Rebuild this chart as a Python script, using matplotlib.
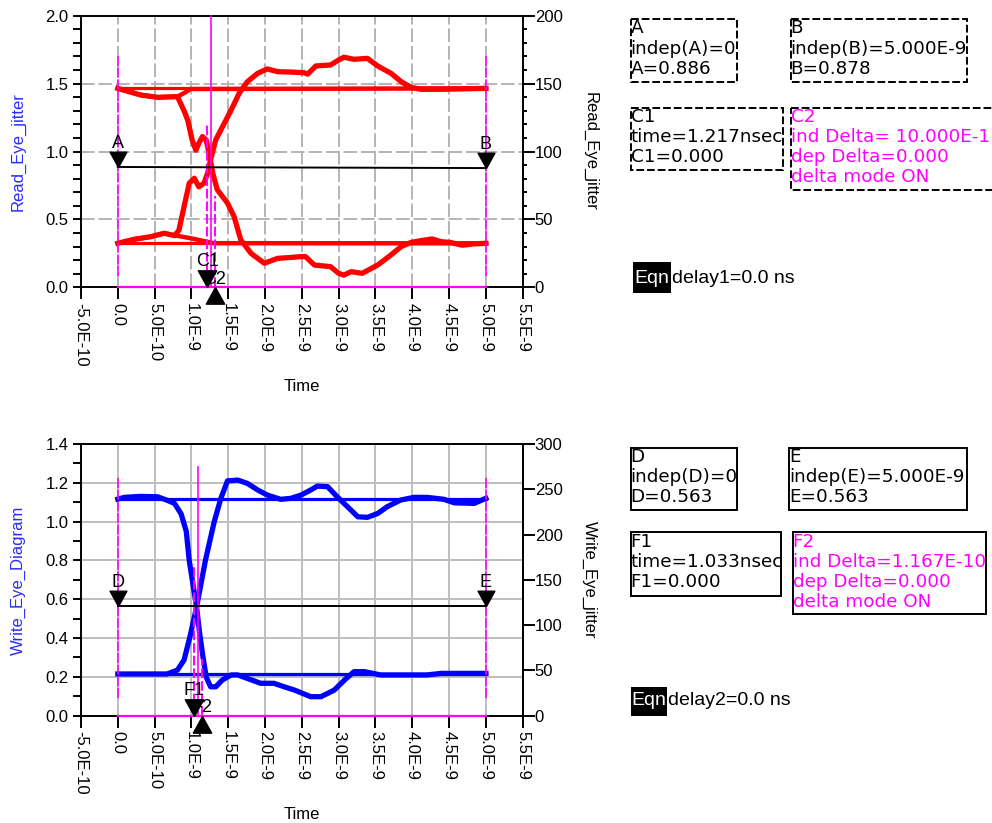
import numpy as np
import matplotlib
matplotlib.use("Agg")
import matplotlib.pyplot as plt
import matplotlib.transforms as mtransforms
from matplotlib.patches import Rectangle
from matplotlib.path import Path
from matplotlib.ticker import MultipleLocator

plt.rcParams['font.family'] = ['Liberation Sans', 'DejaVu Sans']

RED = '#ff0000'
BLUE = '#0000ff'
MAGENTA = '#ff00ff'

# time axis (ns) and its labels
time_ticks = [-0.5, 0.0, 0.5, 1.0, 1.5, 2.0, 2.5, 3.0, 3.5, 4.0, 4.5, 5.0, 5.5]
time_labels = ["-5.0E-10", "0.0", "5.0E-10", "1.0E-9", "1.5E-9", "2.0E-9", "2.5E-9",
               "3.0E-9", "3.5E-9", "4.0E-9", "4.5E-9", "5.0E-9", "5.5E-9"]

# ---- read eye (ns, V) ----
read_levels = [1.465, 0.324]
read_fall_t = [0, 0.31, 0.54, 0.81, 0.9, 0.95, 1.01, 1.06, 1.1, 1.15, 1.2, 1.24, 1.29, 1.35,
               1.49, 1.58, 1.67, 1.81, 1.99, 2.17, 2.35, 2.49, 2.55, 2.67, 2.89, 3.0, 3.07,
               3.17, 3.32, 3.53, 3.71, 3.85, 3.98, 4.12, 4.27, 4.39, 4.52, 4.68, 4.84, 5.0]
read_fall_v = [1.465, 1.416, 1.399, 1.404, 1.30, 1.23, 1.085, 1.01, 1.06, 1.11, 1.085, 0.987,
               0.84, 0.72, 0.62, 0.52, 0.35, 0.25, 0.177, 0.213, 0.22, 0.226, 0.226, 0.164,
               0.152, 0.103, 0.09, 0.115, 0.103, 0.164, 0.238, 0.3, 0.33, 0.344, 0.356, 0.336,
               0.33, 0.31, 0.32, 0.324]
read_rise_t = [0, 0.22, 0.45, 0.63, 0.77, 0.83, 0.9, 0.97, 1.04, 1.1, 1.17, 1.22, 1.26, 1.33,
               1.42, 1.54, 1.65, 1.76, 1.9, 2.03, 2.17, 2.35, 2.53, 2.58, 2.69, 2.89, 3.0,
               3.07, 3.21, 3.39, 3.53, 3.71, 3.85, 3.98, 4.12, 4.39, 5.0]
read_rise_v = [0.324, 0.353, 0.373, 0.398, 0.38, 0.42, 0.594, 0.766, 0.803, 0.74, 0.766, 0.84,
               0.94, 1.085, 1.18, 1.306, 1.43, 1.514, 1.576, 1.608, 1.588, 1.585, 1.58, 1.57,
               1.63, 1.637, 1.674, 1.694, 1.679, 1.686, 1.63, 1.576, 1.514, 1.473, 1.458,
               1.458, 1.465]
read_hi_t = [0, 0.31, 0.54, 0.81, 0.9, 0.99, 5.0]
read_hi_v = [1.465, 1.416, 1.399, 1.404, 1.43, 1.46, 1.465]
read_lo_t = [0, 0.22, 0.45, 0.63, 0.8, 1.0, 1.13, 1.3, 5.0]
read_lo_v = [0.324, 0.353, 0.373, 0.398, 0.38, 0.36, 0.345, 0.325, 0.324]

# ---- write eye (ns, V) ----
write_levels = [1.116, 0.215]
write_fall_t = [0, 0.09, 0.31, 0.54, 0.67, 0.77, 0.86, 0.93, 0.97, 1.02, 1.07, 1.11, 1.15, 1.2,
                1.26, 1.33, 1.42, 1.54, 1.63, 1.76, 1.94, 2.12, 2.26, 2.4, 2.62, 2.76, 2.94,
                3.08, 3.21, 3.35, 3.57, 3.8, 4.2, 4.39, 5.0]
write_fall_v = [1.116, 1.125, 1.13, 1.128, 1.11, 1.094, 1.04, 0.95, 0.8, 0.68, 0.56, 0.43,
                0.32, 0.2, 0.149, 0.149, 0.184, 0.21, 0.21, 0.192, 0.167, 0.167, 0.149, 0.132,
                0.098, 0.098, 0.132, 0.184, 0.227, 0.227, 0.21, 0.21, 0.21, 0.218, 0.218]
write_rise_t = [0, 0.67, 0.81, 0.9, 0.98, 1.07, 1.19, 1.31, 1.4, 1.49, 1.63, 1.76, 1.9, 2.03,
                2.21, 2.35, 2.49, 2.62, 2.71, 2.85, 2.98, 3.12, 3.26, 3.39, 3.53, 3.66, 3.84,
                4.02, 4.2, 4.43, 4.57, 4.84, 5.0]
write_rise_v = [0.215, 0.215, 0.235, 0.287, 0.407, 0.56, 0.8, 1.0, 1.12, 1.21, 1.214, 1.197,
                1.163, 1.137, 1.115, 1.12, 1.137, 1.163, 1.183, 1.18, 1.128, 1.077, 1.025,
                1.022, 1.042, 1.077, 1.111, 1.125, 1.125, 1.115, 1.097, 1.094, 1.12]

# ---- markers ----
A_x, A_y = 0.0, 0.886
B_x, B_y = 5.0, 0.878
C1_t, C2_delta = 1.217, 0.100
D_x, D_y = 0.0, 0.563
E_x, E_y = 5.0, 0.563
F1_t, F2_delta = 1.033, 0.1167

# triangle markers with the tip on the point
tri_down = Path([(-0.55, 1.0), (0.55, 1.0), (0, 0), (-0.55, 1.0)],
                [Path.MOVETO, Path.LINETO, Path.LINETO, Path.CLOSEPOLY])
tri_up = Path([(-0.55, -1.0), (0.55, -1.0), (0, 0), (-0.55, -1.0)],
              [Path.MOVETO, Path.LINETO, Path.LINETO, Path.CLOSEPOLY])

fig = plt.figure(figsize=(9.92, 8.23), dpi=100)
pix = mtransforms.Affine2D().scale(1 / 992, -1 / 823).translate(0, 1) + fig.transFigure

ax1 = fig.add_axes([81 / 992, 1 - 287.3 / 823, 441.7 / 992, 271.6 / 823])
ax2 = fig.add_axes([81 / 992, 1 - 715.7 / 823, 441.7 / 992, 271.7 / 823])


def setup_axes(ax, ymax, ystep, yminor, ylabel, rmax, rminor, rlabel, dashed_grid):
    ax.set_xlim(-0.5, 5.5)
    ax.set_ylim(0, ymax)
    ax.set_xticks(time_ticks)
    ax.set_xticklabels(time_labels, rotation=-90, fontsize=12)
    yt = np.arange(0, ymax + 1e-9, ystep)
    ax.set_yticks(yt)
    ax.set_yticklabels([f"{v:.1f}" for v in yt], fontsize=12)
    ax.yaxis.set_minor_locator(MultipleLocator(yminor))
    ax.tick_params(axis='x', direction='out', length=8.6, width=1.4, pad=2.5)
    ax.tick_params(axis='y', which='both', direction='out', length=6, width=1.4, pad=3)
    for s in ax.spines.values():
        s.set_linewidth(1.4)
    if dashed_grid:
        ax.grid(True, color='#b4b4b4', lw=1.4, linestyle=(0, (7, 2)))
        ax.spines['top'].set_linestyle((0, (7, 1)))
        ax.spines['bottom'].set_linestyle((0, (7, 1)))
    else:
        ax.grid(True, color='#bebebe', lw=1.4)
    ax.set_axisbelow(True)
    ax.set_ylabel(ylabel, color='#2a2aff', fontsize=12)
    ax.yaxis.set_label_coords(-0.1426, 0.5)
    ax.yaxis.label.set_va('center')
    ax.set_xlabel('Time', fontsize=12)
    ax.xaxis.set_label_coords(0.5, -0.364)
    ax.xaxis.label.set_va('center')

    r = ax.twinx()
    r.set_ylim(0, rmax)
    rt = np.arange(0, rmax + 1, 50)
    r.set_yticks(rt)
    r.set_yticklabels([str(int(v)) for v in rt], fontsize=12)
    if rminor:
        r.yaxis.set_minor_locator(MultipleLocator(rminor))
    r.tick_params(which='major', direction='out', length=8.6, width=1.4, pad=0)
    r.tick_params(which='minor', direction='out', length=3, width=1.4)
    for k in ('top', 'bottom', 'left'):
        r.spines[k].set_visible(False)
    r.spines['right'].set_linewidth(1.4)
    r.set_ylabel(rlabel, rotation=-90, fontsize=12)
    r.yaxis.set_label_coords(1.152, 0.5)
    r.yaxis.label.set_va('center')
    r.yaxis.label.set_ha('center')
    return r


setup_axes(ax1, 2.0, 0.5, 0.1, 'Read_Eye_jitter', 200, 10, 'Read_Eye_jitter', True)
setup_axes(ax2, 1.4, 0.2, 0.1, 'Write_Eye_Diagram', 300, None, 'Write_Eye_jitter', False)

# eye traces
for lvl in read_levels:
    ax1.plot([0, 5], [lvl, lvl], color=RED, lw=2.3, zorder=3)
ax1.plot(read_hi_t, read_hi_v, color=RED, lw=3.2, zorder=3)
ax1.plot(read_lo_t, read_lo_v, color=RED, lw=3.2, zorder=3)
ax1.plot(read_fall_t, read_fall_v, color=RED, lw=3.8, zorder=3)
ax1.plot(read_rise_t, read_rise_v, color=RED, lw=3.8, zorder=3)

for lvl in write_levels:
    ax2.plot([0, 5], [lvl, lvl], color=BLUE, lw=2.3, zorder=3)
ax2.plot(write_fall_t, write_fall_v, color=BLUE, lw=3.8, zorder=3)
ax2.plot(write_rise_t, write_rise_v, color=BLUE, lw=3.8, zorder=3)


def draw_markers(ax, p1, p2, t1, delta, n1, n2, n3, n4, stem_lo, edge_top, mid_top,
                 t1_top, t2_top):
    (x1, y1), (x2, y2) = p1, p2
    t2 = t1 + delta
    mid = t1 + delta / 2
    # marker stems
    for x in (x1, x2):
        ax.plot([x, x], [stem_lo, edge_top], color=MAGENTA, lw=1.2, ls=(0, (6, 1)), zorder=4)
    ax.plot([mid, mid], [0, mid_top], color=MAGENTA, lw=1.2, zorder=4, clip_on=False)
    ax.plot([t1, t1], [0, t1_top], color=MAGENTA, lw=1.4, ls=(0, (5, 1.5)), zorder=4)
    ax.plot([t2, t2], [0, t2_top], color=MAGENTA, lw=1.4, ls=(0, (5, 1.5)), zorder=4)
    ax.plot([x1, x2], [0, 0], color=MAGENTA, lw=1.6, zorder=5, clip_on=False)
    # level line between the two value markers
    ax.plot([x1, x2], [y1, y2], color='black', lw=1.4, zorder=4)
    for (x, y), name in ((p1, n1), (p2, n2)):
        ax.plot([x], [y], marker=tri_down, ms=22, color='black', ls='none',
                zorder=7, clip_on=False)
        ax.annotate(name, (x, y), xytext=(0, 14), textcoords='offset points',
                    ha='center', va='baseline', fontsize=13, annotation_clip=False, zorder=8)
    ax.annotate(n4, (t2, 0), xytext=(0, 2.5), textcoords='offset points',
                ha='center', va='baseline', fontsize=13, annotation_clip=False, zorder=5)
    ax.plot([t2], [0], marker=tri_up, ms=24, color='black', ls='none',
            zorder=7, clip_on=False)
    ax.plot([t1], [0], marker=tri_down, ms=24, color='black', ls='none',
            zorder=7, clip_on=False)
    ax.annotate(n3, (t1, 0), xytext=(0, 15), textcoords='offset points',
                ha='center', va='baseline', fontsize=13, annotation_clip=False, zorder=8)


draw_markers(ax1, (A_x, A_y), (B_x, B_y), C1_t, C2_delta, 'A', 'B', 'C1', 'C2',
             0.08, 1.70, 2.0, 1.21, 0.67)
draw_markers(ax2, (D_x, D_y), (E_x, E_y), F1_t, F2_delta, 'D', 'E', 'F1', 'F2',
             0.09, 1.223, 1.283, 0.78, 0.29)


# marker readout boxes
def note_box(x0, y0, x1, y1, lines, color, dashed, base):
    rect = Rectangle((x0, y0), x1 - x0, y1 - y0, transform=pix, fill=False,
                     lw=1.4, ls=(0, (4, 1.5)) if dashed else '-', ec='black', clip_on=False)
    fig.add_artist(rect)
    for i, s in enumerate(lines):
        fig.text(x0, base + 20.2 * i, s, transform=pix, ha='left', va='baseline',
                 fontsize=13.2, family='DejaVu Sans', color=color)


note_box(630.7, 19.3, 737.3, 81.7,
         ['A', f'indep(A)={A_x:g}', f'A={A_y:.3f}'], 'black', True, 33.3)
note_box(790.7, 19.3, 967.3, 82,
         ['B', f'indep(B)={B_x:.3f}E-9', f'B={B_y:.3f}'], 'black', True, 33.3)
note_box(630.7, 108.3, 783.3, 170,
         ['C1', f'time={C1_t:.3f}nsec', 'C1=0.000'], 'black', True, 121.7)
note_box(790.7, 108.3, 1000, 190,
         ['C2', 'ind Delta= 10.000E-11', 'dep Delta=0.000', 'delta mode ON'],
         MAGENTA, True, 121.7)

note_box(630.7, 447.7, 737.3, 510,
         ['D', f'indep(D)={D_x:g}', f'D={D_y:.3f}'], 'black', False, 461.7)
note_box(789, 447.7, 967.3, 510,
         ['E', f'indep(E)={E_x:.3f}E-9', f'E={E_y:.3f}'], 'black', False, 461.7)
note_box(630.7, 531.7, 781, 595.7,
         ['F1', f'time={F1_t:.3f}nsec', 'F1=0.000'], 'black', False, 546.7)
note_box(792.7, 531.7, 985.7, 614,
         ['F2', f'ind Delta={F2_delta * 10:.3f}E-10', 'dep Delta=0.000', 'delta mode ON'],
         MAGENTA, False, 546.7)


def eqn(x0, y0, x1, y1, text, base):
    fig.add_artist(Rectangle((x0, y0), x1 - x0, y1 - y0, transform=pix,
                             fc='black', ec='none'))
    fig.text((x0 + x1) / 2, base, 'Eqn', transform=pix, ha='center', va='baseline',
             fontsize=14, color='white')
    fig.text(x1 + 1, base, text, transform=pix, ha='left', va='baseline', fontsize=14)


eqn(633.3, 262, 670.7, 293.3, 'delay1=0.0 ns', 283)
eqn(631, 686.7, 666.7, 715.7, 'delay2=0.0 ns', 705)

fig.savefig('out.png', dpi=100)
